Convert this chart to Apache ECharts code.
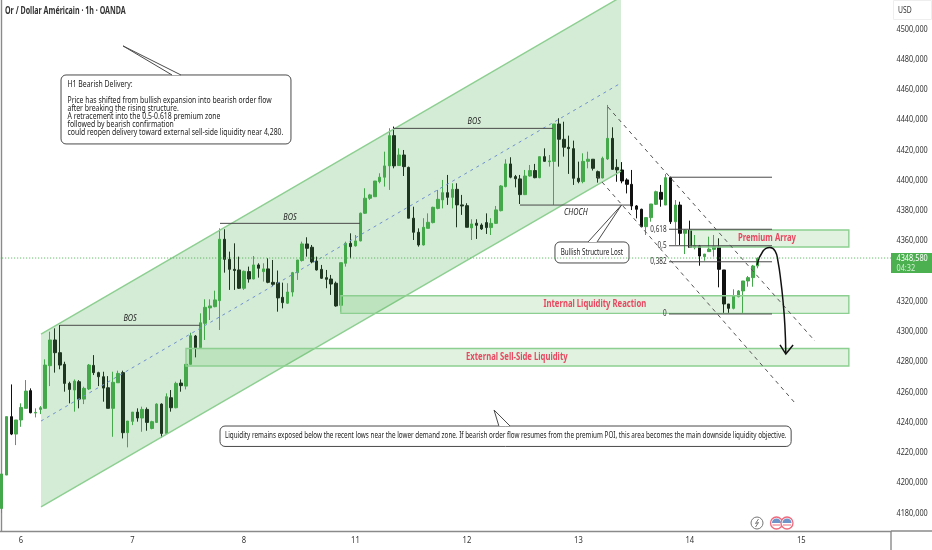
<!DOCTYPE html>
<html><head><meta charset="utf-8">
<style>html,body{margin:0;padding:0;background:#fff}#c{width:932px;height:550px}</style>
<script src="https://cdn.jsdelivr.net/npm/echarts@6/dist/echarts.min.js"></script>
</head><body><div id="c"></div>
<script>
const titleText = "Or / Dollar Américain · 1h · OANDA";
const dayTicks = {4:"6",27:"7",50:"8",73:"11",96:"12",119:"13",142:"14",165:"15"};
const priceTicks = [4180,4200,4220,4240,4260,4280,4300,4320,4360,4380,4400,4420,4440,4460,4480,4500];
const opens = [4183,4205.1,4243.7,4232.2,4241.5,4249.2,4260.9,4246.1,4248.5,4249.2,4277.4,4294.4,4286,4278.3,4265.7,4261.3,4266.8,4255.3,4262,4277.6,4272.8,4270.1,4262.8,4249.2,4266.1,4272.8,4233.1,4240.6,4246.7,4242.8,4248.5,4235.9,4239.9,4252,4232.6,4256.2,4249.6,4265.9,4263.9,4278.3,4297,4289.3,
4305.4,4315.6,4316.4,4320.4,4361,4347.7,4341.1,4340.7,4328.6,4339.6,4334.7,4344,4339.6,4341.4,4332.5,4332.3,4322.6,4318.7,4326.1,4338.9,4346.9,4357.9,4355.7,4346.6,4341.1,4335.6,4334.7,4331.9,4317.3,4345.1,4358.3,4356.6,4359.9,4378.2,4388.1,
4389.1,4399.1,4402,4409.5,4429.5,4409.7,4416.7,4408.5,4374.9,4365.6,4357.2,4368.2,4372,4381.4,4387,4391.8,4388.7,4394,4383.7,4383.2,4368.5,4371.6,4370.4,4372,4368.7,4371.5,4379.9,4395.8,4410.8,4402.4,4400.9,4390.5,4402.8,4406.4,4401.7,4415.6,4412.3,4412.5,4437.2,4427.1,4421.8,4420.9,4401.3,4399.1,4412.5,4413.9,4405.7,4401.5,4414.1,4427.7,4408.5,4406.8,
4400.2,4397.3,4383,4380.8,4369.3,4375.3,4384.1,4392,4383.6,4401.7,4372.6,4383.6,4364.9,4367.1,4355.6,4356.5,4349.5,4352.8,4354.3,4355.6,4340.7,4318.2,4315.3,4323,4326.8,4333.4,4335.6,4343.3];
const closes = [4205.8,4243.7,4232.2,4241.5,4249.8,4260.6,4246.3,4246.5,4249.6,4277.8,4294.4,4286,4277.8,4265.7,4261.7,4267.2,4255.3,4262.4,4277.8,4272.8,4270.1,4262.6,4249.2,4266.4,4272.3,4233.1,4240.8,4246.7,4242.8,4248.5,4239.9,4240.4,4252,4232.6,4256.9,4249.6,4265.7,4264.2,4278.3,4297.2,4289.3,4305.8,
4316,4316.9,4320.9,4361,4347.7,4341.1,4340.3,4328.6,4339.8,4334.7,4344,4341.8,4341.4,4332.5,4331.2,4322.2,4319.1,4326.1,4338.9,4347.3,4357.9,4355,4346,4340.7,4335.2,4334.5,4331.4,4316.9,4345.5,4358.3,4356.1,4359.9,4378.2,4388.1,4390.3,
4399.5,4402,4409.5,4429.5,4409.5,4416.7,4409,4374.9,4365.6,4357.2,4368.9,4372.2,4382.1,4387.4,4391.8,4388.7,4394,4383.7,4383,4368.9,4371.1,4370.2,4367.8,4368.7,4371.5,4380.4,4396.2,4410.8,4402,4401,4390.5,4402.8,4406.4,4401.7,4415.6,4412.5,4412.8,4437.2,4427.1,4421.8,4420.9,4401.3,4399.1,4412.5,4413.9,4407.9,4401.5,4414.5,4427.7,4407.2,4406.8,4399.5,
4397.3,4383,4380.8,4369.3,4375.3,4384.3,4392.4,4387.4,4401.7,4372.6,4383.6,4364.9,4367.1,4355.6,4356.7,4349.9,4351.2,4354.5,4356.1,4341.1,4318.2,4315.3,4323.7,4326.8,4333.4,4335.6,4343.3,4348.4];
const lows = [4180,4205.1,4231.5,4224.9,4237,4249.2,4245.9,4243.2,4245.4,4249.2,4263.9,4272.8,4275,4260.2,4252.5,4247,4249.2,4252,4261.3,4271.2,4263.9,4253.6,4249.2,4230.4,4266.1,4229.3,4223.4,4238.1,4240.4,4233.7,4234.4,4235.3,4239.7,4229.8,4232.2,4247,4249.2,4260.2,4261.7,4278.3,4282.9,4288.8,
4294.4,4307.6,4316,4301,4338.9,4327.5,4327.5,4328.1,4327.5,4332.3,4334.5,4335.6,4333,4331.9,4330.1,4313.1,4315.3,4318.2,4323.1,4334.1,4346.2,4349.5,4345.1,4340.3,4334.7,4328.6,4324.2,4316.4,4313.1,4342.9,4348.4,4356.1,4359.6,4377.7,4387,
4389.1,4398,4395.8,4393.6,4407.9,4409.5,4402.8,4374.9,4360.5,4356.1,4356.8,4368.2,4371.5,4380.8,4381.4,4383.7,4381.4,4368.9,4377.1,4368.9,4360.5,4361.2,4367.1,4364.5,4363.8,4371.1,4379.4,4395.3,4401.3,4395.3,4384.3,4390.2,4402.4,4401.3,4401.3,4412.3,4409,4383.7,4409,4415.6,4404.2,4396.9,4398,4398,4407.9,4406.4,4398.4,4401.3,4413.4,4406.8,4399,4398,
4391.3,4380.3,4374.8,4368.9,4363.8,4372.6,4383.6,4382.5,4383.6,4371.1,4357.2,4357.2,4351.2,4355.6,4354.3,4343.5,4346.8,4352.8,4349.5,4329.2,4312,4311.6,4314.6,4322.6,4312,4329.6,4329.6,4341.8];
const highs = [4205.8,4243.7,4265,4241.5,4252.5,4267.9,4262.4,4249.2,4250.7,4281.6,4299.9,4302.1,4304.3,4280,4266.8,4268.3,4267.9,4263.5,4278.5,4284.4,4273.4,4273.4,4270.5,4273.4,4274.1,4274.1,4240.8,4246.7,4249.2,4250.3,4249.8,4241,4252.5,4252.5,4259.1,4261.3,4266.8,4268.3,4278.5,4299.2,4297.7,4312,
4321.3,4321.3,4327,4368.2,4367.6,4352.8,4358.3,4349.5,4340.3,4342.9,4349.9,4345.1,4345.1,4348.4,4347.3,4340.3,4332.3,4331.9,4339.4,4347.3,4359.4,4362.3,4357.2,4349.5,4344,4340.7,4337.4,4333,4345.5,4359.4,4364.9,4363.8,4378.6,4394.7,4391,
4399.5,4404.6,4418.9,4434.4,4435.5,4421.1,4420,4409,4382.5,4368.2,4374.9,4378.1,4382.5,4393.6,4400.2,4403.5,4398,4398,4390.3,4384.8,4374.2,4374.2,4371.5,4378.1,4374.9,4383,4396.8,4413.9,4415.2,4403.5,4403.5,4406.8,4410.1,4410.8,4415.6,4421.1,4416.7,4437.2,4441,4438.7,4429.5,4426.2,4412.3,4417.8,4418.9,4413.9,4406.4,4415.6,4449.8,4435,4413.9,4412,
4401.3,4406.8,4383.6,4381.2,4375.3,4384.3,4393.1,4396.9,4404.1,4402.4,4386.9,4385.8,4367.5,4373.3,4363.8,4357.2,4351.2,4362.7,4363.8,4361.6,4340.7,4318.2,4327.9,4327.4,4333.4,4336.7,4344,4349];
const lastPrice = 4348.58;
const countdown = "04:32";
const channelBand = [[8.13,4298.3],[127.8,4521.2],[127.8,4406.1],[8.13,4184]];
const channelMid = [[8.13,4240.8],[127.8,4464.3]];
const zonePremium = [142,4367.1,174.8,4355.9];
const zoneInternal = [70,4323.6,174.8,4312];
const zoneExternal = [38.04,4288.8,174.8,4277.2];
const bosLines = [[12.05,40.93,4304.1],[45.06,73.94,4371.5],[80.96,113.76,4434.3],[106.95,129.85,4383.6]];
const fibLevels = [[null,4402],["0,618",4367.6],["0,5",4356.7],["0,382",4346.1],["0",4311.6]];
const fibSpan = [137.7,158.95];
const fallLines = [[[125.1,4448.4],[167.8,4293.7]],[[122.8,4402.8],[163.7,4252.7]]];
const curve = [[155.85,4344],[157.1,4353.2],[158.5,4355.5],[159.6,4353.2],[160.2,4346],[160.8,4332.7],[161.2,4320.8],[161.6,4304.3],[161.8,4285.5]];
const arrowHead = [[160.6,4291.1],[161.8,4285.1],[163.3,4291.1]];
const box1 = {rect:[12.26,4469.6,59.7,4424],tail:[[35.16,4469.6],[25.05,4488.8],[37,4469.6]]};
const box1Lines = [["H1 Bearish Delivery:",4463],["Price has shifted from bullish expansion into bearish order flow",4452.4],["after breaking the rising structure.",4447.1],["A retracement into the 0.5-0.618 premium zone",4441.8],["followed by bearish confirmation",4436.5],["could reopen delivery toward external sell-side liquidity near 4,280.",4431.2]];
const box2 = {rect:[114.17,4359.2,129.44,4345.3],tail:[[121,4359.2],[127.9,4383.6],[122.85,4359.2]]};
const box2Text = ["Bullish Structure Lost",121.8,4352.2];
const box3 = {rect:[45.06,4237.5,162.9,4224],tail:[[102.6,4237.5],[101.6,4248.1],[104.9,4237.5]]};
const box3Text = ["Liquidity remains exposed below the recent lows near the lower demand zone. If bearish order flow resumes from the premium POI, this area becomes the main downside liquidity objective.",104,4230.9];
const italicLabels = [["BOS",26.5,4308.7],["BOS",59.5,4375.2],["BOS",97.5,4438.7],["CHOCH",118.5,4379]];
const redLabels = [["Premium Array",157.9,4361.8],["Internal Liquidity Reaction",122.4,4318.2],["External Sell-Side Liquidity",106.3,4283.1]];

const FONT = '"Noto Sans",sans-serif';
const cats = Array.from({length:184},(_,i)=>dayTicks[i]||"");
const candleData = opens.map((o,i)=>[o,closes[i],lows[i],highs[i]]);

const drawings = [];
const GREEN_LINE = '#8ccf90', DARK='#4a4a4a';
const txt=(t,p,align,font,fill,sx)=>drawings.push({k:'text',t,p,align,font,fill,sx});
drawings.push({k:'poly',pts:channelBand,fill:'rgba(76,175,80,0.24)'});
drawings.push({k:'line',pts:[channelBand[0],channelBand[1]],stroke:GREEN_LINE,w:1.4});
drawings.push({k:'line',pts:[channelBand[3],channelBand[2]],stroke:GREEN_LINE,w:1.4});
drawings.push({k:'line',pts:channelMid,stroke:'#6f8fd0',w:1,dash:[3,4]});
[zoneExternal,zoneInternal,zonePremium].forEach(z=>drawings.push({k:'zone',z}));
bosLines.forEach(b=>drawings.push({k:'line',pts:[[b[0],b[2]],[b[1],b[2]]],stroke:DARK,w:1}));
fibLevels.forEach(f=>{
  drawings.push({k:'line',pts:[[fibSpan[0],f[1]],[fibSpan[1],f[1]]],stroke:DARK,w:1});
  if(f[0]) txt(f[0],[137.2,f[1]],'right','8.5px '+FONT,'#333',.75);
});
fallLines.forEach(l=>drawings.push({k:'line',pts:l,stroke:'#555',w:1,dash:[4,4]}));
drawings.push({k:'line',pts:curve,stroke:'#111',w:1.5,smooth:0.5});
drawings.push({k:'line',pts:arrowHead,stroke:'#111',w:1.5});
[box1,box2,box3].forEach(b=>drawings.push({k:'box',b}));
box1Lines.forEach(l=>txt(l[0],[13.6,l[1]],'left','8.2px '+FONT,'#222',.84));
txt(box2Text[0],[box2Text[1],box2Text[2]],'center','8px '+FONT,'#222',.78);
txt(box3Text[0],[box3Text[1],box3Text[2]],'center','8px '+FONT,'#222',.79);
italicLabels.forEach(l=>txt(l[0],[l[1],l[2]],'center','italic 9px '+FONT,'#222',.81));
redLabels.forEach(l=>txt(l[0],[l[1],l[2]],'center','bold 10px '+FONT,'#e8475f',.77));

function textEl(x,y,t,font,fill,align,sx){
  return {type:'text',x,y,scaleX:sx||1,scaleY:1,style:{text:t,font,fill,align,verticalAlign:'middle'}};
}
function renderDrawing(params,api){
  const d = drawings[params.dataIndex];
  const c = p=>api.coord(p);
  if(d.k==='poly') return {type:'polygon',shape:{points:d.pts.map(c)},style:{fill:d.fill,stroke:null}};
  if(d.k==='line') return {type:'polyline',shape:{points:d.pts.map(c),smooth:d.smooth||0},style:{stroke:d.stroke,lineWidth:d.w,lineDash:d.dash||null,fill:null}};
  if(d.k==='zone'){
    const a=c([d.z[0],d.z[1]]),b=c([d.z[2],d.z[3]]);
    return {type:'rect',shape:{x:a[0],y:a[1],width:b[0]-a[0],height:b[1]-a[1]},style:{fill:'rgba(76,175,80,0.17)',stroke:GREEN_LINE,lineWidth:1.4}};
  }
  if(d.k==='text'){
    const p=c(d.p);
    return textEl(p[0],p[1],d.t,d.font,d.fill,d.align,d.sx);
  }
  if(d.k==='box'){
    const a=c([d.b.rect[0],d.b.rect[1]]),b=c([d.b.rect[2],d.b.rect[3]]);
    const t=d.b.tail.map(c);
    return {type:'group',children:[
      {type:'rect',shape:{x:a[0],y:a[1],width:b[0]-a[0],height:b[1]-a[1],r:5},style:{fill:'#fff',stroke:DARK,lineWidth:1}},
      {type:'polygon',shape:{points:t},style:{fill:'#fff',stroke:null}},
      {type:'polyline',shape:{points:t},style:{stroke:DARK,lineWidth:1,fill:null}}
    ]};
  }
}
function renderFrame(params,api){
  const cs=params.coordSys, y=api.coord([0,lastPrice])[1], x0=cs.x, x1=cs.x+cs.width, yb=cs.y+cs.height;
  const kids=[
    {type:'line',shape:{x1:x0,y1:y,x2:x1,y2:y},style:{stroke:'#4caf50',lineWidth:1,lineDash:[1,2]}}
  ];
  priceTicks.forEach(v=>kids.push(textEl(x1+5.5,api.coord([0,v])[1],v.toFixed(3).replace('.',','),'9.5px '+FONT,'#333','left',.77)));
  Object.keys(dayTicks).forEach(k=>kids.push(textEl(api.coord([+k,4300])[0],yb+9,dayTicks[k],'9.5px '+FONT,'#333','center',.8)));
  kids.push(
    {type:'rect',shape:{x:x1,y:y-5,width:41,height:20},style:{fill:'#4caf50'}},
    textEl(x1+5.5,y,lastPrice.toFixed(3).replace('.',','),'9.5px '+FONT,'#fff','left',.77),
    textEl(x1+5.5,y+10,countdown,'9.5px '+FONT,'#d5efd6','left',.77),
    textEl(5,11,titleText,'bold 10px '+FONT,'#333','left',.71),
    {type:'rect',shape:{x:893.5,y:0.5,width:38,height:19},style:{fill:'#fff',stroke:'#eee',lineWidth:1}},
    textEl(898,11,'USD','8.5px '+FONT,'#333','left',.8)
  );
  return {type:'group',children:kids};
}

const chart = echarts.init(document.getElementById('c'),null,{renderer:'canvas'});
chart.setOption({
  animation:false,
  backgroundColor:'#fff',
  grid:{left:-0.82,top:0,width:891.82,height:531,containLabel:false,outerBoundsMode:'none'},
  xAxis:[
    {type:'category',data:cats,boundaryGap:true,axisTick:{show:false},splitLine:{show:false},
     axisLine:{lineStyle:{color:'#8a8a8a',width:1.4}},axisLabel:{show:false}},
    {type:'value',min:-0.5,max:183.5,show:false}
  ],
  yAxis:{type:'value',position:'right',min:4168.1,max:4519.17,splitLine:{show:false},axisTick:{show:false},
     axisLine:{show:true,lineStyle:{color:'#8a8a8a',width:1.4}},axisLabel:{show:false}},
  series:[
    {type:'candlestick',xAxisIndex:0,yAxisIndex:0,data:candleData,barWidth:3,z:2,
     itemStyle:{color:'#43a84a',color0:'#111',borderColor:'#43a84a',borderColor0:'#111',borderWidth:1}},
    {type:'custom',xAxisIndex:1,yAxisIndex:0,z:3,clip:true,silent:true,data:drawings.map((d,i)=>[i]),renderItem:renderDrawing},
    {type:'custom',xAxisIndex:1,yAxisIndex:0,z:4,clip:false,silent:true,data:[[0]],renderItem:renderFrame}
  ],
  graphic:[
    {type:'line',shape:{x1:891,y1:531,x2:891,y2:550},style:{stroke:'#8a8a8a',lineWidth:1.4}},
    {type:'line',shape:{x1:891,y1:531,x2:932,y2:531},style:{stroke:'#8a8a8a',lineWidth:1.4}},
    {type:'circle',shape:{cx:757,cy:523,r:6},style:{fill:'#fff',stroke:'#777',lineWidth:1}},
    {type:'polyline',shape:{points:[[758.5,519],[755.5,523.5],[758.5,522.5],[755.5,527]]},style:{stroke:'#777',lineWidth:1,fill:null}},
    ...[776.5,787].flatMap(cx=>[
      {type:'circle',shape:{cx,cy:523,r:6},style:{fill:'#fff',stroke:'#ee6a7c',lineWidth:1.3}},
      {type:'sector',shape:{cx,cy:523,r:4.6,startAngle:Math.PI,endAngle:2*Math.PI},style:{fill:'#6f94c9'}},
      {type:'line',shape:{x1:cx-4,y1:525,x2:cx+4,y2:525},style:{stroke:'#ee6a7c',lineWidth:1}}
    ])
  ]
});
</script></body></html>
